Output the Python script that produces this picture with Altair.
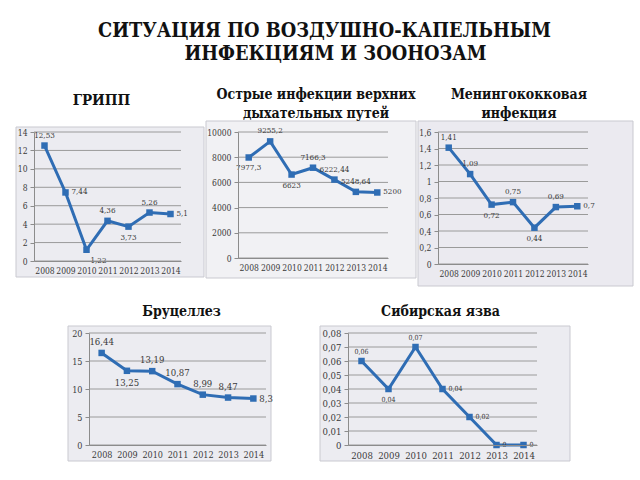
import altair as alt
import pandas as pd

years = ["2008", "2009", "2010", "2011", "2012", "2013", "2014"]

gripp_vals = [12.53, 7.44, 1.22, 4.36, 3.73, 5.26, 5.1]
orvi_vals = [7977.3, 9255.2, 6623, 7166.3, 6222.44, 5248.64, 5200]
mening_vals = [1.41, 1.09, 0.72, 0.75, 0.44, 0.69, 0.7]
bruc_vals = [16.44, 13.25, 13.19, 10.87, 8.99, 8.47, 8.3]
anthrax_vals = [0.06, 0.04, 0.07, 0.04, 0.02, 0, 0]

gripp_ticks = [0, 2, 4, 6, 8, 10, 12, 14]
orvi_ticks = [0, 2000, 4000, 6000, 8000, 10000]
mening_ticks = [0, 0.2, 0.4, 0.6, 0.8, 1, 1.2, 1.4, 1.6]
bruc_ticks = [0, 5, 10, 15, 20]
anthrax_ticks = [0, 0.01, 0.02, 0.03, 0.04, 0.05, 0.06, 0.07, 0.08]

# label placement relative to the point: a=above, b=below, r=right, br=below-right
gripp_place = ["a", "r", "br", "a", "b", "a", "r"]
orvi_place = ["b", "a", "b", "a", "a", "a", "r"]
mening_place = ["a", "a", "b", "a", "b", "a", "r"]
bruc_place = ["a", "b", "a", "a", "a", "a", "r"]
anthrax_place = ["a", "b", "a", "r", "r", "r", "r"]

title_line1 = "СИТУАЦИЯ ПО ВОЗДУШНО-КАПЕЛЬНЫМ"
title_line2 = "ИНФЕКЦИЯМ И ЗООНОЗАМ"
gripp_title = ["ГРИПП"]
orvi_title = ["Острые инфекции верхних", "дыхательных путей"]
mening_title = ["Менингококковая", "инфекция"]
bruc_title = ["Бруцеллез"]
anthrax_title = ["Сибирская язва"]

BLUE = "#2f6db4"
SERIF = "DejaVu Serif Condensed"
TXT = "#3a3a3a"
AX = "#8c8c8c"


def fmt_label(v):
    return f"{v:g}".replace(".", ",")


def panel(title_lines, vals, place, ticks, w, h, ext, lab_size, title_dx,
          title_offset, fill, int_fmt=False, axis_size=8.5, title_size=14):
    l, r, t, b = ext
    df = pd.DataFrame({"year": years, "value": vals, "place": place,
                       "label": [fmt_label(v) for v in vals]})
    tdf = pd.DataFrame({"tick": ticks})
    yscale = alt.Scale(domain=[ticks[0], ticks[-1]], nice=False)
    xscale = alt.Scale(type="point", padding=0.5)
    if int_fmt:
        lexpr = "format(datum.value, 'd')"
    else:
        lexpr = "replace(format(datum.value, '~g'), '.', ',')"
    xaxis = alt.Axis(title=None, labelAngle=0, ticks=False, grid=False,
                     domainColor=AX, labelFont=SERIF, labelFontSize=axis_size,
                     labelColor=TXT, labelPadding=5, zindex=1)
    yaxis = alt.Axis(title=None, values=ticks, labelExpr=lexpr, grid=False,
                     domainColor=AX, tickColor=AX, tickSize=4,
                     labelFont=SERIF, labelFontSize=axis_size, labelColor=TXT,
                     labelPadding=3, zindex=1)
    X = alt.X("year:N", scale=xscale, axis=xaxis, sort=years)
    Y = alt.Y("value:Q", scale=yscale, axis=yaxis)

    bg = alt.Chart(pd.DataFrame({"k": [0]})).mark_rect(
        fill=fill, stroke="#c9c9d0", strokeWidth=1
    ).encode(x=alt.value(-l), x2=alt.value(w + r),
             y=alt.value(-t), y2=alt.value(h + b))
    grid = alt.Chart(tdf).mark_rule(color="#9a9a9a", strokeWidth=1).encode(
        y=alt.Y("tick:Q", scale=yscale, axis=yaxis),
        x=alt.value(0), x2=alt.value(w))
    base = alt.Chart(df)
    line = base.mark_line(color=BLUE, strokeWidth=3).encode(x=X, y=Y)
    pts = base.mark_square(color=BLUE, size=42, opacity=1).encode(x=X, y=Y)
    layers = [bg, grid, line, pts]
    specs = {
        "a": dict(dy=-(lab_size * 0.5 + 6), align="center"),
        "b": dict(dy=(lab_size * 0.5 + 7), align="center"),
        "r": dict(dx=6, align="left"),
        "br": dict(dx=4, dy=(lab_size * 0.5 + 7), align="left"),
    }
    for key, kw in specs.items():
        if key not in place:
            continue
        layers.append(
            base.transform_filter(alt.datum.place == key).mark_text(
                font=SERIF, fontSize=lab_size, color=TXT, baseline="middle", **kw
            ).encode(x=X, y=Y, text="label:N")
        )
    return alt.layer(*layers).properties(
        width=w, height=h,
        title=alt.TitleParams(text=title_lines, font=SERIF, fontSize=title_size,
                              fontWeight="bold", color="#111111",
                              anchor="middle", dx=title_dx,
                              offset=title_offset, lineHeight=19),
    )


p1 = panel(gripp_title, gripp_vals, gripp_place, gripp_ticks, 147, 129,
           (18, 23, 5, 16), 8, -6, 19, "#ececf1", title_size=15)
p2 = panel(orvi_title, orvi_vals, orvi_place, orvi_ticks, 150, 126,
           (32, 28, 11, 20), 8, 3, 0, "#f1f1f4", int_fmt=True)
p3 = panel(mening_title, mening_vals, mening_place, mening_ticks, 150, 132,
           (20, 45, 11, 22), 8, 6, 0, "#ebeaf0")
p4 = panel(bruc_title, bruc_vals, bruc_place, bruc_ticks, 177, 112,
           (21, 5, 7, 16), 9.5, 4, 7, "#ececf1", axis_size=9)
p5 = panel(anthrax_title, anthrax_vals, anthrax_place, anthrax_ticks, 189, 112,
           (28, 33, 7, 16), 7, -2, 7, "#ececf1", axis_size=9.5)

spacer = alt.Chart(pd.DataFrame({"k": [0]})).mark_rect(opacity=0).encode(
    x=alt.value(0), x2=alt.value(2), y=alt.value(0), y2=alt.value(1)
).properties(width=2, height=1)

row1 = alt.hconcat(p1, p2, p3, spacing=0)
row2 = alt.hconcat(spacer, alt.hconcat(p4, p5, spacing=46), spacing=31)

inner = alt.vconcat(row1, row2, spacing=17).properties(
    title=alt.TitleParams(text=title_line2, font=SERIF, fontSize=19.8,
                          fontWeight="bold", color="#111111", anchor="middle",
                          dx=11, offset=24),
)

chart = alt.vconcat(inner, spacing=0).properties(
    title=alt.TitleParams(text=title_line1, font=SERIF, fontSize=19.8,
                          fontWeight="bold", color="#111111", anchor="middle",
                          offset=3),
    padding={"left": 15, "top": 20, "right": 5, "bottom": 5},
    background="white",
).configure_view(stroke=None)

chart.save("out.html", embed_options={"renderer": "svg", "actions": False})
